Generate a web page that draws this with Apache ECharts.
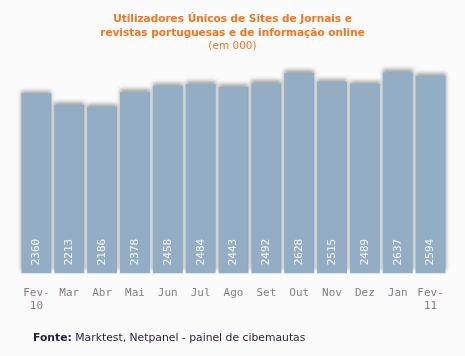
<!DOCTYPE html>
<html><head><meta charset="utf-8">
<script src="https://cdn.jsdelivr.net/npm/echarts@6/dist/echarts.min.js"></script>
<style>html,body{margin:0;padding:0;background:#fbfbfb}#c{width:465px;height:356px}</style>
</head><body><div id="c"></div>
<script>
const categories = ['Fev-\n10','Mar','Abr','Mai','Jun','Jul','Ago','Set','Out','Nov','Dez','Jan','Fev-\n11'];
const values = [2360,2213,2186,2378,2458,2484,2443,2492,2628,2515,2489,2637,2594];
const titleLines = ['Utilizadores Únicos de Sites de Jornais e','revistas portuguesas e de informação online'];
const subtitle = '(em 000)';
const source = 'Marktest, Netpanel - painel de cibemautas';

const chart = echarts.init(document.getElementById('c'));
chart.setOption({
  backgroundColor: '#fbfbfb',
  animation: false,
  title: {
    text: titleLines.join('\n') + '\n{s|' + subtitle + '}',
    left: 'center', top: 8,
    textStyle: {
      fontFamily: 'DejaVu Sans', fontSize: 10.5, fontWeight: 'bold', color: '#f7741f', lineHeight: 13.5,
      rich: { s: { fontFamily: 'DejaVu Sans', fontSize: 10.5, fontWeight: 'normal', color: '#f7741f', lineHeight: 13.5 } }
    }
  },
  graphic: [{
    type: 'text', left: 33, top: 333,
    style: {
      text: '{b|Fonte:} ' + source,
      fontFamily: 'DejaVu Sans', fontSize: 10.8, fill: '#2b1a3b',
      rich: { b: { fontFamily: 'DejaVu Sans', fontSize: 10.8, fontWeight: 'bold', color: '#111' } }
    }
  }],
  grid: { left: 20, right: 18, top: 60, bottom: 82.7 },
  xAxis: {
    type: 'category', data: categories,
    axisLine: { show: false }, axisTick: { show: false },
    axisLabel: { interval: 0, margin: 13, fontFamily: 'DejaVu Sans Mono', fontSize: 11, color: '#8a7a8a', lineHeight: 13 }
  },
  yAxis: { type: 'value', min: 0, max: 2800, show: false, splitLine: { show: false } },
  series: [{
    type: 'bar', data: values, barCategoryGap: '9%',
    itemStyle: { color: '#92adc4', shadowColor: 'rgba(0,0,0,0.35)', shadowBlur: 4, shadowOffsetY: -3 },
    label: {
      show: true, position: 'insideBottom', rotate: 90, distance: 6, offset: [2, 0],
      fontFamily: 'DejaVu Sans Mono', fontSize: 11, color: '#f4f6f8', align: 'left', verticalAlign: 'middle'
    }
  }]
});
</script></body></html>
